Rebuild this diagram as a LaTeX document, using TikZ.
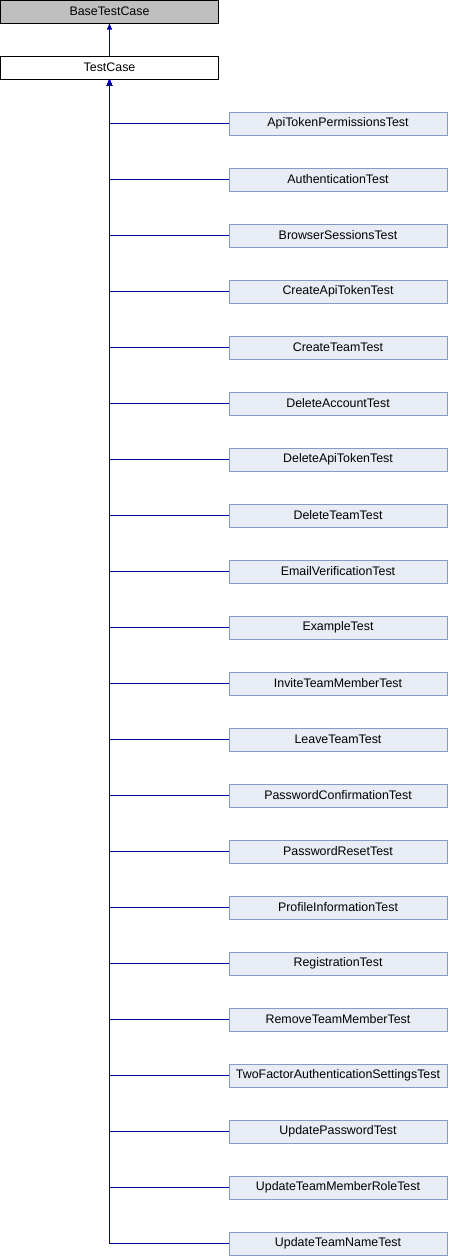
\documentclass[tikz,border=0pt]{standalone}
\usepackage{fontspec}
\setmainfont{Liberation Sans}
\usetikzlibrary{arrows.meta}

\definecolor{edgeblue}{RGB}{0,0,160}
\definecolor{childfill}{RGB}{232,236,244}
\definecolor{childline}{RGB}{132,155,201}
\definecolor{basefill}{RGB}{191,191,191}

\begin{document}
\begin{tikzpicture}
            [x=1pt,y=-1pt,every node/.style={draw,shape=rectangle,inner sep=0,minimum width=218pt,minimum height=23pt,font=\fontsize{12.4}{14}\selectfont,line width=1pt},
             child/.style={fill=childfill,draw=childline},
             edge/.style={line width=1pt,edgeblue,-{Triangle[length=6pt,width=5pt]}}]

            \useasboundingbox (0,0) rectangle (448,1256);

            \node[fill=basefill] (base) at (109.5, 11.5) {BaseTestCase};
            \node[fill=white] (tc) at (109.5, 67.5) {TestCase};

            \node[child] (c1) at (338, 123.5) {ApiTokenPermissionsTest};
            \node[child] (c2) at (338, 179.5) {AuthenticationTest};
            \node[child] (c3) at (338, 235.5) {BrowserSessionsTest};
            \node[child] (c4) at (338, 291.5) {CreateApiTokenTest};
            \node[child] (c5) at (338, 347.5) {CreateTeamTest};
            \node[child] (c6) at (338, 403.5) {DeleteAccountTest};
            \node[child] (c7) at (338, 459.5) {DeleteApiTokenTest};
            \node[child] (c8) at (338, 515.5) {DeleteTeamTest};
            \node[child] (c9) at (338, 571.5) {EmailVerificationTest};
            \node[child] (c10) at (338, 627.5) {ExampleTest};
            \node[child] (c11) at (338, 683.5) {InviteTeamMemberTest};
            \node[child] (c12) at (338, 739.5) {LeaveTeamTest};
            \node[child] (c13) at (338, 795.5) {PasswordConfirmationTest};
            \node[child] (c14) at (338, 851.5) {PasswordResetTest};
            \node[child] (c15) at (338, 907.5) {ProfileInformationTest};
            \node[child] (c16) at (338, 963.5) {RegistrationTest};
            \node[child] (c17) at (338, 1019.5) {RemoveTeamMemberTest};
            \node[child] (c18) at (338, 1075.5) {TwoFactorAuthenticationSettingsTest};
            \node[child] (c19) at (338, 1131.5) {UpdatePasswordTest};
            \node[child] (c20) at (338, 1187.5) {UpdateTeamMemberRoleTest};
            \node[child] (c21) at (338, 1243.5) {UpdateTeamNameTest};

            \draw[edge] (tc) -- (base);
            % every test points back to TestCase
            \draw[edge] (c1.west) -| (tc.south);
            \draw[edge] (c2.west) -| (tc.south);
            \draw[edge] (c3.west) -| (tc.south);
            \draw[edge] (c4.west) -| (tc.south);
            \draw[edge] (c5.west) -| (tc.south);
            \draw[edge] (c6.west) -| (tc.south);
            \draw[edge] (c7.west) -| (tc.south);
            \draw[edge] (c8.west) -| (tc.south);
            \draw[edge] (c9.west) -| (tc.south);
            \draw[edge] (c10.west) -| (tc.south);
            \draw[edge] (c11.west) -| (tc.south);
            \draw[edge] (c12.west) -| (tc.south);
            \draw[edge] (c13.west) -| (tc.south);
            \draw[edge] (c14.west) -| (tc.south);
            \draw[edge] (c15.west) -| (tc.south);
            \draw[edge] (c16.west) -| (tc.south);
            \draw[edge] (c17.west) -| (tc.south);
            \draw[edge] (c18.west) -| (tc.south);
            \draw[edge] (c19.west) -| (tc.south);
            \draw[edge] (c20.west) -| (tc.south);
            \draw[edge] (c21.west) -| (tc.south);
          \end{tikzpicture}
\end{document}
